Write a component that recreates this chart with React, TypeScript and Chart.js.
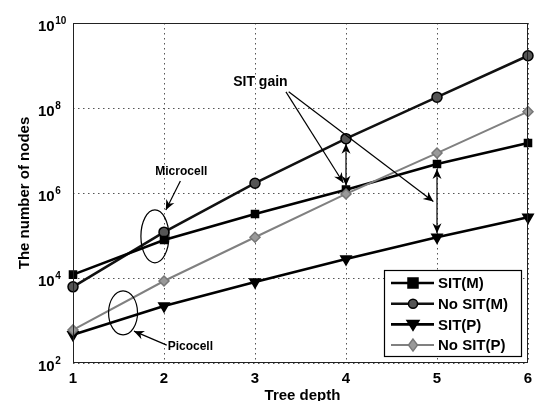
import React, { useEffect, useRef } from "react";
import { Chart, registerables } from "chart.js";

Chart.register(...registerables);

// ---- data ----
const depths = [1, 2, 3, 4, 5, 6];
const sitM = [1.2e4, 7.8e4, 3.2e5, 1.2e6, 4.8e6, 1.5e7];
const noSitM = [6.2e3, 1.2e5, 1.7e6, 1.9e7, 1.8e8, 1.7e9];
const sitP = [460, 2.2e3, 8.1e3, 2.8e4, 9.1e4, 2.7e5];
const noSitP = [600, 8.5e3, 9.1e4, 9.5e5, 8.7e6, 8.2e7];
const seriesNames = ["SIT(M)", "No SIT(M)", "SIT(P)", "No SIT(P)"];
const xTicks = [1, 2, 3, 4, 5, 6];
const yTickExps = [2, 4, 6, 8, 10];
const xTitle = "Tree depth";
const yTitle = "The number of nodes";
const gainLabel = "SIT gain";
const microLabel = "Microcell";
const picoLabel = "Picocell";

const FONT = "'Liberation Sans', Arial, sans-serif";

type Style = { color: string; width: number; marker: string; fill: string; stroke: string; r: number };
const styles: Style[] = [
  { color: "#000", width: 2.6, marker: "rect", fill: "#000", stroke: "#000", r: 5 },
  { color: "#111", width: 2.6, marker: "circle", fill: "#555", stroke: "#000", r: 5 },
  { color: "#000", width: 2.6, marker: "tri", fill: "#000", stroke: "#000", r: 6 },
  { color: "#808080", width: 2, marker: "diamond", fill: "#999", stroke: "#777", r: 5 },
];

function drawMarker(ctx: CanvasRenderingContext2D, kind: string, x: number, y: number, s: Style) {
  ctx.save();
  ctx.fillStyle = s.fill;
  ctx.strokeStyle = s.stroke;
  ctx.lineWidth = 1.5;
  ctx.beginPath();
  if (kind === "rect") {
    ctx.rect(x - 5, y - 5, 10, 10);
  } else if (kind === "circle") {
    ctx.arc(x, y, 4.5, 0, Math.PI * 2);
  } else if (kind === "tri") {
    ctx.moveTo(x - 6, y - 4);
    ctx.lineTo(x + 6, y - 4);
    ctx.lineTo(x, y + 6);
    ctx.closePath();
  } else {
    ctx.moveTo(x, y - 6);
    ctx.lineTo(x + 4.5, y);
    ctx.lineTo(x, y + 6);
    ctx.lineTo(x - 4.5, y);
    ctx.closePath();
  }
  ctx.fill();
  ctx.stroke();
  ctx.restore();
}

function arrowHead(ctx: CanvasRenderingContext2D, tx: number, ty: number, fx: number, fy: number, len = 10, hw = 4.5) {
  const a = Math.atan2(ty - fy, tx - fx);
  const c = Math.cos(a), s = Math.sin(a);
  const bx = tx - c * len, by = ty - s * len;
  const nx = tx - c * len * 0.7, ny = ty - s * len * 0.7;
  ctx.beginPath();
  ctx.moveTo(tx, ty);
  ctx.lineTo(bx - s * hw, by + c * hw);
  ctx.lineTo(nx, ny);
  ctx.lineTo(bx + s * hw, by - c * hw);
  ctx.closePath();
  ctx.fill();
}

function arrow(ctx: CanvasRenderingContext2D, x1: number, y1: number, x2: number, y2: number, both = false) {
  ctx.beginPath();
  ctx.moveTo(x1, y1);
  ctx.lineTo(x2, y2);
  ctx.stroke();
  arrowHead(ctx, x2, y2, x1, y1);
  if (both) arrowHead(ctx, x1, y1, x2, y2);
}

const gridPlugin = {
  id: "dotgrid",
  beforeDatasetsDraw(chart: any) {
    const ctx: CanvasRenderingContext2D = chart.ctx;
    const xs = chart.scales.x;
    const ys = chart.scales.y;
    const a = chart.chartArea;
    ctx.save();
    ctx.strokeStyle = "#555";
    ctx.lineWidth = 1;
    ctx.setLineDash([1.5, 3.5]);
    xs.ticks.forEach((t: any) => {
      const px = Math.round(xs.getPixelForValue(t.value)) + 0.5;
      ctx.beginPath();
      ctx.moveTo(px, a.top);
      ctx.lineTo(px, a.bottom);
      ctx.stroke();
    });
    ys.ticks.forEach((t: any) => {
      const py = Math.round(ys.getPixelForValue(t.value)) + 0.5;
      ctx.beginPath();
      ctx.moveTo(a.left, py);
      ctx.lineTo(a.right, py);
      ctx.stroke();
    });
    ctx.restore();
  },
};

const decorPlugin = {
  id: "decor",
  afterDatasetsDraw(chart: any) {
    const ctx: CanvasRenderingContext2D = chart.ctx;
    const xs = chart.scales.x;
    const ys = chart.scales.y;
    const a = chart.chartArea;
    const X = (v: number) => xs.getPixelForValue(v);
    const Ye = (e: number) => ys.getPixelForValue(Math.pow(10, e));
    const Y = (v: number) => ys.getPixelForValue(v);

    ctx.save();
    // frame
    ctx.strokeStyle = "#222";
    ctx.lineWidth = 1;
    ctx.strokeRect(a.left + 0.5, a.top + 0.5, a.right - a.left - 1, a.bottom - a.top - 1);

    // annotations
    ctx.strokeStyle = "#000";
    ctx.fillStyle = "#000";
    ctx.lineWidth = 1.2;
    ctx.font = `bold 14px ${FONT}`;
    ctx.textAlign = "left";
    ctx.textBaseline = "alphabetic";
    ctx.fillText(gainLabel, X(2.76), Ye(8.52));
    arrow(ctx, X(3.34), Ye(8.38), X(3.97), Ye(6.24));
    arrow(ctx, X(3.37), Ye(8.38), X(4.96), Ye(5.8));
    arrow(ctx, X(4), Y(noSitM[3]) + 5, X(4), Y(sitM[3]) - 4, true);
    arrow(ctx, X(5), Y(sitM[4]) + 5, X(5), Y(sitP[4]) - 4, true);

    // Microcell
    ctx.font = `bold 12px ${FONT}`;
    ctx.textAlign = "center";
    ctx.fillText(microLabel, X(2.19), Ye(6.42));
    arrow(ctx, X(2.18), Ye(6.28), X(2.02), Ye(5.6));
    ctx.beginPath();
    ctx.ellipse(X(1.9), Ye(4.98), 14, 26.5, 0, 0, Math.PI * 2);
    ctx.stroke();

    // Picocell
    ctx.textAlign = "left";
    ctx.textBaseline = "middle";
    ctx.fillText(picoLabel, X(2.04), Ye(2.38));
    arrow(ctx, X(2.03), Ye(2.42), X(1.67), Ye(2.75));
    ctx.beginPath();
    ctx.ellipse(X(1.55), Ye(3.18), 14.5, 22, 0, 0, Math.PI * 2);
    ctx.stroke();

    // legend
    const lx1 = a.right - 144, ly1 = a.bottom - 93, lx2 = a.right - 7, ly2 = a.bottom - 7;
    ctx.fillStyle = "#fff";
    ctx.fillRect(lx1, ly1, lx2 - lx1, ly2 - ly1);
    ctx.strokeStyle = "#000";
    ctx.lineWidth = 1.2;
    ctx.strokeRect(lx1 + 0.5, ly1 + 0.5, lx2 - lx1, ly2 - ly1);
    ctx.font = `bold 15px ${FONT}`;
    ctx.textAlign = "left";
    ctx.textBaseline = "middle";
    seriesNames.forEach((name, i) => {
      const st = styles[i];
      const yy = ly1 + 13 + i * 20.7;
      ctx.strokeStyle = st.color;
      ctx.lineWidth = st.width;
      ctx.beginPath();
      ctx.moveTo(lx1 + 7, yy);
      ctx.lineTo(lx1 + 50, yy);
      ctx.stroke();
      drawMarker(ctx, st.marker, lx1 + 29, yy, st);
      ctx.fillStyle = "#000";
      ctx.fillText(name, lx1 + 54, yy + 1);
    });

    // tick labels
    ctx.fillStyle = "#000";
    ctx.textBaseline = "alphabetic";
    yTickExps.forEach((e) => {
      const py = Ye(e);
      ctx.font = `bold 15px ${FONT}`;
      ctx.textAlign = "left";
      ctx.fillText("10", 38, py + 8);
      const w = ctx.measureText("10").width;
      ctx.font = `bold 10px ${FONT}`;
      ctx.fillText(String(e), 38 + w + 0.5, py + 1);
    });
    ctx.font = `bold 15px ${FONT}`;
    ctx.textAlign = "center";
    xTicks.forEach((t) => {
      ctx.fillText(String(t), X(t), a.bottom + 20);
    });
    ctx.fillText(xTitle, (a.left + a.right) / 2 + 2, a.bottom + 37);
    ctx.save();
    ctx.translate(29, (a.top + a.bottom) / 2);
    ctx.rotate(-Math.PI / 2);
    ctx.textBaseline = "alphabetic";
    ctx.fillText(yTitle, 0, 0);
    ctx.restore();

    ctx.restore();
  },
};

export default function App() {
  const ref = useRef<HTMLCanvasElement>(null);
  useEffect(() => {
    if (!ref.current) return;
    const series = [sitM, noSitM, sitP, noSitP];
    const pointStyles = ["rect", "circle", "triangle", "rectRot"];
    const chart = new Chart(ref.current, {
      type: "line",
      data: {
        datasets: series.map((vals, i) => ({
          label: seriesNames[i],
          data: depths.map((d, j) => ({ x: d, y: vals[j] })),
          borderColor: styles[i].color,
          borderWidth: styles[i].width,
          backgroundColor: styles[i].fill,
          pointBackgroundColor: styles[i].fill,
          pointBorderColor: styles[i].stroke,
          pointBorderWidth: 1.5,
          pointStyle: pointStyles[i],
          pointRotation: i === 2 ? 180 : 0,
          pointRadius: styles[i].r,
          tension: 0,
          clip: false as any,
          order: i === 3 ? 0 : 1,
        })),
      },
      options: {
        responsive: false,
        animation: false,
        devicePixelRatio: 1,
        layout: { padding: { left: 73, right: 14, top: 23, bottom: 38 } },
        plugins: { legend: { display: false }, tooltip: { enabled: false }, title: { display: false } },
        scales: {
          x: {
            type: "linear",
            min: 1,
            max: 6,
            afterBuildTicks: (s: any) => {
              s.ticks = xTicks.map((v) => ({ value: v }));
            },
            ticks: { display: false },
            grid: { display: false, drawTicks: false },
            border: { display: false },
          },
          y: {
            type: "logarithmic",
            min: 1e2,
            max: 1e10,
            afterBuildTicks: (s: any) => {
              s.ticks = yTickExps.map((e) => ({ value: Math.pow(10, e) }));
            },
            ticks: { display: false },
            grid: { display: false, drawTicks: false },
            border: { display: false },
          },
        },
      },
      plugins: [gridPlugin, decorPlugin],
    } as any);
    return () => chart.destroy();
  }, []);
  return (
    <div style={{ position: "absolute", left: 0, top: 0, width: 542, height: 401, background: "#fff" }}>
      <canvas ref={ref} width={542} height={401} style={{ display: "block" }} />
    </div>
  );
}
